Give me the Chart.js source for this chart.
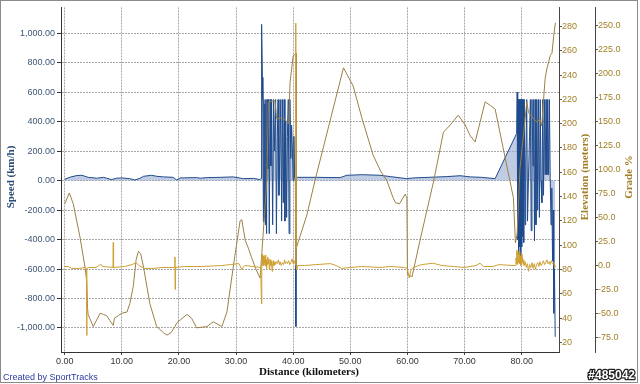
<!DOCTYPE html>
<html>
<head>
<meta charset="utf-8">
<script src="https://cdn.jsdelivr.net/npm/chart.js@4.4.1/dist/chart.umd.min.js"></script>
<style>
html,body{margin:0;padding:0;background:#fff;}
#wrap{width:640px;height:384px;position:relative;}
</style>
</head>
<body>
<div id="wrap"><canvas id="c" width="640" height="384"></canvas></div>
<script>
// ---- tick labels ----
const distanceTicks = [0, 10, 20, 30, 40, 50, 60, 70, 80];
const speedTicks = [-1000, -800, -600, -400, -200, 0, 200, 400, 600, 800, 1000];
const elevationTicks = [20, 40, 60, 80, 100, 120, 140, 160, 180, 200, 220, 240, 260, 280];
const gradeTicks = [-75, -50, -25, 0, 25, 50, 75, 100, 125, 150, 175, 200, 225, 250];

// ---- speed (km/h) by distance (km) ----
const speedKm = [0, 1.0, 2.1, 3.0, 4.1, 5.6, 6.8, 7.35, 8.2, 9.1, 10.0, 11.4, 12.3, 13.2, 13.8, 15.2, 16.1, 17.3, 19.0, 19.6, 20.2, 23.1, 23.7, 24.9, 27.2, 29.5, 31.3, 33.0, 34.2, 34.38,
  34.47, 34.61, 34.69, 34.78, 34.87, 34.96, 35.04, 35.13, 35.22, 35.34, 35.43, 35.57, 35.69, 35.81, 35.95, 36.10, 36.22, 36.40, 36.57, 36.75, 36.92, 37.06, 37.22, 37.35, 37.50, 37.67, 37.83, 37.97, 38.11, 38.27, 38.41, 38.55, 38.70, 38.85, 38.98, 39.14, 39.28, 39.42, 39.58, 39.72, 39.86, 39.98, 40.12, 40.25, 40.38, 40.47, 40.56,
  40.7, 44.0, 48.2, 49.4, 52.0, 55.2, 57.0, 59.9, 61.0, 66.9, 69.2, 71.0, 73.0, 75.35,
  79.12, 79.21, 79.30, 79.39, 79.47, 79.56, 79.65, 79.74, 79.82, 79.91, 80.00, 80.09, 80.18, 80.26, 80.35, 80.44, 80.58, 80.70, 80.88, 81.02, 81.19, 81.37, 81.52, 81.66, 81.80, 81.98, 82.10, 82.24, 82.36, 82.50, 82.66, 82.80, 82.94, 83.10, 83.24, 83.38, 83.54, 83.68, 83.82, 83.97, 84.12, 84.26, 84.42, 84.56, 84.70, 84.85, 84.99, 85.13, 85.27, 85.40, 85.52, 85.61, 85.73, 85.87];
const speedKmh = [9, 24, 34, 36, 22, 16, 22, 16, 7, 16, 18, 13, 4, 16, 29, 36, 29, 25, 22, 4, 18, 20, 16, 20, 22, 25, 13, 15, 7, 15,
  1060, 700, 550, -280, 550, -250, 520, -300, 550, -360, 550, 80, 550, -360, 550, 100, 550, -300, 550, 200, 550, -360, 300, 550, -100, 200, 550, -275, 550, -150, 550, -275, 400, -250, 300, 550, -360, 550, 150, 375, 215, 0, 300, 20, 20, -990, 20,
  22, 22, 20, 36, 40, 36, 27, 13, 18, 27, 33, 25, 22, 13,
  320, 600, -400, 550, -500, 550, -450, 550, -520, 550, -450, 550, -380, 550, -420, 550, -300, 100, 550, -275, 20, 300, 550, -340, 550, 100, 550, -410, 550, -300, 550, -200, 550, -250, 550, 0, -150, 550, -100, 550, 40, 550, 40, 550, 40, 550, 20, -300, -50, -545, -200, -900, -600, -1060];

// ---- elevation (m) by distance (km) ----
const elevationKm = [0, 0.8, 1.5, 2.7, 3.55, 3.85, 4.0, 4.1, 5.0, 6.2, 6.8, 7.35, 7.9, 8.5, 8.7, 9.4, 10.0, 10.9, 11.4, 12.0, 12.5, 12.9, 13.3, 13.8, 14.9, 16.1, 17.3, 17.9, 18.6, 19.3, 19.6, 21.4, 22.2, 23.1, 24.9, 26.0, 27.5, 28.4, 29.5, 30.7, 31.0, 31.6, 32.2, 32.7, 33.5, 34.2, 34.5, 35.4, 35.65, 36.8, 37.1, 38.0, 38.6, 39.2, 39.45, 40.0, 40.3, 40.5, 40.56, 42.4, 43.8, 48.8, 50.5, 52.0, 54.0, 55.3, 56.4, 57.5, 57.9, 58.6, 59.6, 59.9, 60.0, 60.8, 62.2, 64.55, 66.3, 67.5, 68.9, 70.1, 71.0, 71.85, 72.7, 73.6, 74.5, 75.35, 78.55, 78.9, 79.2, 79.7, 80.9, 81.2, 82.1, 82.7, 83.2, 83.5, 83.8, 84.1, 84.4, 85.0, 85.3, 85.6, 85.9];
const elevationM = [134, 143, 134, 106, 82, 71, 48, 43, 33, 44, 43, 42, 38, 34, 40, 42, 44, 45, 52, 66, 88, 95, 93, 82, 52, 33, 28, 26, 28, 33, 36, 43, 40, 32, 33, 37, 33, 45, 82, 120, 121, 104, 97, 90, 80, 73, 93, 155, 218, 219, 204, 205, 203, 200, 234, 256, 257, 258, 98, 125, 153, 246, 231, 205, 174, 161, 153, 139, 135, 134, 142, 139, 76, 74, 104, 152, 193, 199, 207, 199, 190, 185, 201, 218, 215, 212, 139, 102, 109, 163, 218, 209, 204, 201, 204, 198, 218, 237, 245, 256, 258, 272, 283];

// ---- grade (%) by distance (km) ----
const gradeKm = [0, 0.6, 1.2, 2.5, 3.6, 3.8, 3.85, 3.9, 4.2, 5.5, 6.0, 6.3, 6.6, 8.45, 8.5, 8.55, 10.5, 11.8, 12.5, 13.0, 14.0, 15.5, 17.0, 19.25, 19.3, 19.33, 19.38, 21.0, 24.0, 27.5, 29.0, 30.5, 31.0, 31.5, 33.0, 34.3,
  34.45, 34.50, 34.55, 34.60, 34.65, 34.70, 34.78, 34.86, 34.94, 35.02, 35.10, 35.18, 35.26, 35.34, 35.42, 35.50, 35.58, 35.66, 35.74, 35.82, 35.90, 36.0, 36.1, 36.2, 36.3, 36.4, 36.5, 36.6, 36.7, 36.8, 37.0, 37.2, 37.4, 37.6, 37.7, 37.9, 38.1, 38.3, 38.5, 38.6, 38.8, 39.0, 39.2, 39.4, 39.6, 39.8, 40.0, 40.2, 40.35, 40.45, 40.52, 40.6, 40.8,
  42.0, 44.0, 46.5, 47.5, 48.5, 50.0, 52.0, 55.2, 57.0, 59.5, 60.0, 60.3, 60.6, 61.0, 62.5, 64.5, 66.0, 68.0, 70.0, 72.0, 72.7, 73.3, 75.0, 76.0, 78.5,
  78.9, 79.0, 79.1, 79.15, 79.2, 79.25, 79.3, 79.35, 79.45, 79.55, 79.65, 79.75, 79.85, 79.95, 80.05, 80.15, 80.25, 80.35, 80.45, 80.6, 80.8, 81.0, 81.2, 81.4, 81.6, 81.8, 82.0, 82.2, 82.4, 82.6, 82.8, 83.0, 83.2, 83.4, 83.6, 83.8, 84.0, 84.2, 84.4, 84.6, 84.8, 85.0, 85.2, 85.4, 85.6, 85.8, 85.9];
const gradePct = [-1, -1, -3, -3, -2, -5, -73, -3, -2, -2, 0, 1.5, -1, -2, 24, -2, -1, 1, 3, 0, -3, -3, -2, -2, 9, -25, -2, -1, -1, 0, 1, 2, -4, 0, -1, -2,
  -40, 2, 12, 0, 12, 2, 10, 0, 8, 3, 11, 0, 6, -3, 5, 1, 9, 2, 7, -4, 3, 6, 0, 4, -6, 2, 5, 0, 3, 1, 4, 2, 6, 1, 4, 0, 3, 1, 6, 2, 4, 2, 5, 1, 3, 7, 2, 5, 1, 253, -2, -4, 0,
  0, 1, 2, 0, -3, -2, -1, -2, -1, -2, -3, -13, -5, -2, 1, 2.4, 0, -1, -2, 0, 2.4, -1, -1, 1, 0,
  0, 8, 2, 16, 4, 14, 1, 12, 3, 15, 2, 10, 0, 12, 3, 8, 1, 6, 0, 4, -2, 2, -6, 1, -2, 3, -3, 2, -4, 1, 3, -1, 4, 0, 2, 5, 1, 3, 6, 2, 4, 1, 5, 2, 3, -2, 0];

const pts = (xs, ys) => xs.map((x, i) => ({ x: x, y: ys[i] }));
const tickFont = { family: '"Liberation Sans", Arial, sans-serif', size: 9 };
const fmtSpeed = v => v.toLocaleString('en-US', { minimumFractionDigits: 2, maximumFractionDigits: 2 });

const overlay = {
  id: 'overlay',
  afterDraw(chart) {
    const c = chart.ctx;
    c.save();
    c.strokeStyle = '#8a8a8a';
    c.lineWidth = 1;
    c.strokeRect(0.5, 0.5, 637, 382);
    c.textAlign = 'center';
    c.textBaseline = 'middle';
    c.font = 'bold 11px "Liberation Serif", serif';
    const vtext = (t, x, y, col) => {
      c.save(); c.translate(x, y); c.rotate(-Math.PI / 2); c.fillStyle = col; c.fillText(t, 0, 0); c.restore();
    };
    vtext('Speed (km/h)', 11, 177, '#2b4a75');
    vtext('Elevation (meters)', 585, 177, '#a27f26');
    vtext('Grade %', 629, 177, '#a27f26');
    c.fillStyle = '#111';
    c.fillText('Distance (kilometers)', 309, 372);
    c.textAlign = 'left';
    c.font = '9px "Liberation Sans", sans-serif';
    c.fillStyle = '#2a3aa0';
    c.fillText('Created by SportTracks', 3, 377.5);
    c.textAlign = 'right';
    c.font = 'bold 12px "Liberation Sans", sans-serif';
    c.lineWidth = 2.5;
    c.strokeStyle = '#222';
    c.lineJoin = 'round';
    c.strokeText('#485042', 635, 376);
    c.fillStyle = '#fff';
    c.fillText('#485042', 635, 376);
    c.restore();
  }
};

new Chart(document.getElementById('c'), {
  type: 'line',
  data: {
    datasets: [
      { label: 'Grade', data: pts(gradeKm, gradePct), yAxisID: 'yGrade', borderColor: '#cf9f32', borderWidth: 1, pointRadius: 0, fill: false, order: 0 },
      { label: 'Elevation', data: pts(elevationKm, elevationM), yAxisID: 'yElev', borderColor: '#9b8048', borderWidth: 1, pointRadius: 0, fill: false, order: 1 },
      { label: 'Speed', data: pts(speedKm, speedKmh), yAxisID: 'y', borderColor: '#1f4a8c', backgroundColor: 'rgba(150,170,208,0.6)', borderWidth: 1, pointRadius: 0, fill: 'origin', order: 2 }
    ]
  },
  options: {
    responsive: false,
    animation: false,
    devicePixelRatio: 1,
    layout: { padding: { top: 4, right: 2, left: 0, bottom: 0 }, autoPadding: false },
    plugins: { legend: { display: false }, tooltip: { enabled: false } },
    elements: { line: { tension: 0 }, point: { radius: 0 } },
    scales: {
      x: {
        type: 'linear', position: 'bottom', min: -0.65, max: 86.53,
        afterBuildTicks: s => { s.ticks = distanceTicks.map(v => ({ value: v })); },
        afterFit: s => { s.height = 32; },
        grid: { color: '#a8a8a8', tickLength: 3, tickColor: '#444' },
        border: { display: true, color: '#333', width: 1, dash: [2, 1] },
        ticks: { font: tickFont, color: '#333', padding: 1, maxRotation: 0, autoSkip: false, callback: v => v.toFixed(2) }
      },
      y: {
        type: 'linear', position: 'left', min: -1163, max: 1175,
        afterBuildTicks: s => { s.ticks = speedTicks.map(v => ({ value: v })); },
        afterFit: s => { s.width = 61; },
        grid: { color: '#a8a8a8', tickLength: 4, tickColor: '#333' },
        border: { display: true, color: '#333', width: 1, dash: [2, 1] },
        ticks: { font: tickFont, color: '#3d5575', padding: 2, autoSkip: false, callback: v => fmtSpeed(v) }
      },
      yElev: {
        type: 'linear', position: 'right', weight: 0, min: 12.1, max: 295.7,
        afterBuildTicks: s => { s.ticks = elevationTicks.map(v => ({ value: v })); },
        afterFit: s => { s.width = 36; },
        grid: { drawOnChartArea: false, tickLength: 3, tickColor: '#555' },
        border: { display: true, color: '#444', width: 1 },
        ticks: { font: tickFont, color: '#a27f26', padding: 0, autoSkip: false, callback: v => String(v) }
      },
      yGrade: {
        type: 'linear', position: 'right', weight: 1, min: -90.2, max: 269.3,
        afterBuildTicks: s => { s.ticks = gradeTicks.map(v => ({ value: v })); },
        afterFit: s => { s.width = 43; },
        grid: { drawOnChartArea: false, tickLength: 3, tickColor: '#555' },
        border: { display: true, color: '#444', width: 1 },
        ticks: { font: tickFont, color: '#a27f26', padding: 0, autoSkip: false, callback: v => v.toFixed(1) }
      }
    }
  },
  plugins: [overlay]
});
</script>
</body>
</html>
